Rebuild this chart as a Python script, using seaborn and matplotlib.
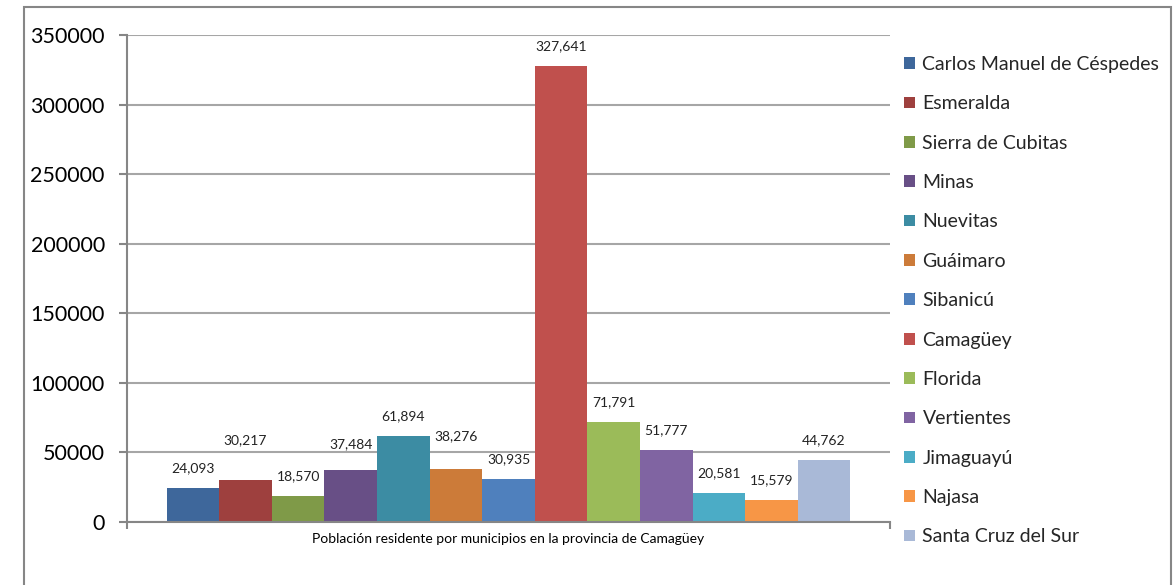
import pandas as pd
import matplotlib.pyplot as plt
import seaborn as sns
from matplotlib.patches import Rectangle

# Datos: población residente por municipio
grupo = "Población residente por municipios en la provincia de Camagüey"
municipios = [
    "Carlos Manuel de Céspedes", "Esmeralda", "Sierra de Cubitas", "Minas",
    "Nuevitas", "Guáimaro", "Sibanicú", "Camagüey", "Florida", "Vertientes",
    "Jimaguayú", "Najasa", "Santa Cruz del Sur",
]
poblacion = [24093, 30217, 18570, 37484, 61894, 38276, 30935,
             327641, 71791, 51777, 20581, 15579, 44762]

colores = [
    "#3E679B", "#9E403E", "#7F9A48", "#684F86", "#3C8CA3", "#CC7B39", "#4F80BD",
    "#C0504D", "#9BBB59", "#8064A2", "#4BACC6", "#F79646", "#A9B9D7",
]
# desplazamiento de las etiquetas (puntos), como en el original
relleno = [10, 24, 10, 14, 10, 19, 10, 10, 10, 10, 10, 10, 10]

df = pd.DataFrame({"grupo": grupo, "municipio": municipios, "poblacion": poblacion})

sns.set_style("white")
plt.rcParams["font.family"] = ["Lato", "DejaVu Sans"]

fig = plt.figure(figsize=(11.73, 5.85), dpi=100)
ax = fig.add_axes([127 / 1173, 1 - 522 / 585, (890 - 127) / 1173, (522 - 35) / 585])

sns.barplot(data=df, x="grupo", y="poblacion", hue="municipio", hue_order=municipios,
            palette=colores, width=0.896, gap=0, saturation=1, errorbar=None,
            linewidth=0, ax=ax)

for cont, v, p in zip(ax.containers, poblacion, relleno):
    ax.bar_label(cont, labels=[f"{v:,}"], padding=p, fontsize=10, color="#222222")

ax.set_xlim(-0.5, 0.5)
ax.set_ylim(0, 350000)
ax.set_yticks(range(0, 350001, 50000))
ax.tick_params(axis="y", labelsize=15.5, length=6, width=1.5, color="#868686",
               labelcolor="black", left=True, pad=10)
ax.set_xticks([-0.5, 0.5], minor=True)
ax.tick_params(axis="x", which="minor", length=5, width=1.5, color="#868686", bottom=True)
ax.tick_params(axis="x", which="major", length=0, labelsize=10, pad=8, labelcolor="black")
ax.set_xlabel("")
ax.set_ylabel("")

ax.grid(axis="y", color="#A6A6A6", linewidth=1.5)
ax.set_axisbelow(True)
for s in ["top", "right"]:
    ax.spines[s].set_visible(False)
for s in ["left", "bottom"]:
    ax.spines[s].set_color("#868686")
    ax.spines[s].set_linewidth(1.5)

handles, labels = ax.get_legend_handles_labels()
ax.legend(handles, labels, loc="upper left", bbox_to_anchor=(904 / 1173, 1 - 56 / 585),
          bbox_transform=fig.transFigure, frameon=False, fontsize=14,
          handlelength=0.55, handleheight=0.55, handletextpad=0.4,
          labelspacing=1.15, borderpad=0, borderaxespad=0)

# marco exterior del gráfico
fig.patches.append(Rectangle((24 / 1173, -0.02), (1171 - 24) / 1173, 1.02 - 7 / 585,
                             transform=fig.transFigure, fill=False,
                             edgecolor="#868686", linewidth=1.5))

fig.savefig("out.png", dpi=100)
